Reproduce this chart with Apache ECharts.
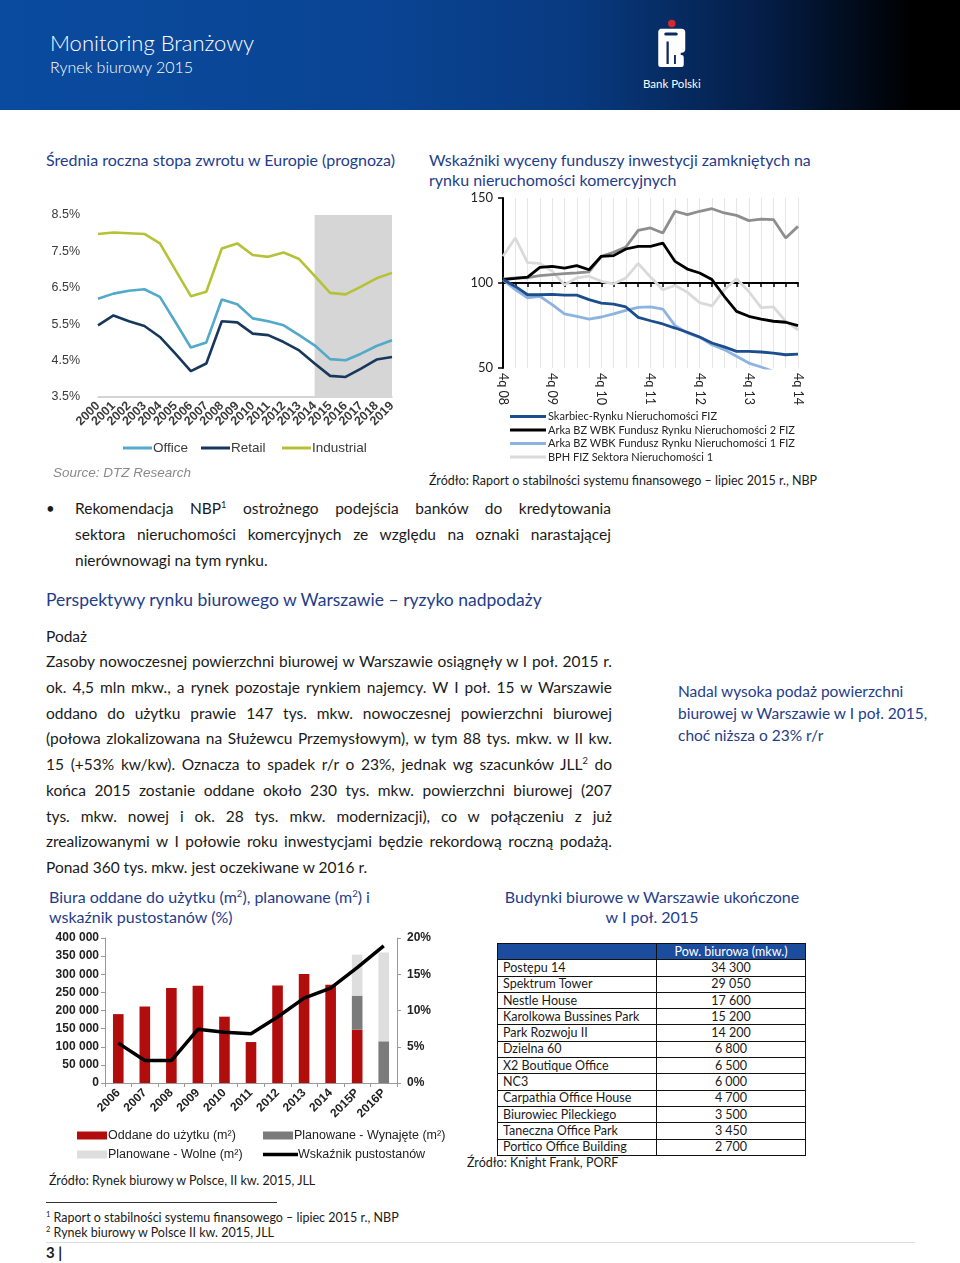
<!DOCTYPE html>
<html><head><meta charset="utf-8">
<script src="https://cdn.jsdelivr.net/npm/echarts@6/dist/echarts.min.js"></script>
<style>
html,body{margin:0;padding:0;background:#fff;}
body{width:960px;height:1263px;position:relative;overflow:hidden;font-family:Lato,"Open Sans",sans-serif;color:#1a1a1a;}
.abs{position:absolute;white-space:nowrap;}
.hdr{position:absolute;left:0;top:0;width:960px;height:110px;background:linear-gradient(90deg,#0a4b9f 0%,#0a4493 40%,#083a80 60%,#041d45 80%,#000 95%);}
.blue{color:#1f3d8a;}
.jl{text-align:justify;text-align-last:justify;}
.par div{height:25.75px;line-height:25.75px;}
#chart{position:absolute;left:0;top:0;width:960px;height:1263px;}
table.tb{position:absolute;left:497px;top:943px;border-collapse:collapse;font-family:Lato,sans-serif;font-size:12.5px;}
table.tb td{border:1px solid #111;height:15.3px;line-height:14px;padding:0 0 0 5px;}
table.tb td.v{text-align:center;padding:0;}
table.tb tr.h td{background:#1c4c9e;color:#fff;}
sup{font-size:60%;line-height:0;}
</style></head>
<body>
<div class="hdr"></div>
<div class="abs" style="left:50px;top:29px;font-size:22px;color:#fff;font-weight:300;">Monitoring Branżowy</div>
<div class="abs" style="left:50px;top:57px;font-size:16px;color:#fff;font-weight:300;">Rynek biurowy 2015</div>
<svg class="abs" style="left:655px;top:16px;" width="35" height="60" viewBox="0 0 46 80">
<circle cx="22" cy="10" r="5" fill="#d8282f"/>
<path d="M7 17 h28 a5 5 0 0 1 5 5 v22 a5 5 0 0 1 -5 5 h-1 v3 h1 a3 3 0 0 1 3 3 v10 a3 3 0 0 1 -3 3 h-28 a3 3 0 0 1 -3 -3 v-42 a6 6 0 0 1 3 -6 z" fill="#fff"/>
<rect x="12" y="22" width="18" height="4" rx="2" fill="#0b2a60"/>
<rect x="15" y="34" width="3" height="30" fill="#0b2a60"/>
<rect x="25" y="52" width="2.5" height="12" fill="#0b2a60"/>
</svg>
<div class="abs" style="left:643px;top:77px;font-size:11.5px;color:#fff;">Bank Polski</div>

<div class="abs blue" style="left:46px;top:150px;font-size:16px;line-height:20px;">Średnia roczna stopa zwrotu w Europie (prognoza)</div>
<div class="abs blue" style="left:429px;top:150px;font-size:16px;line-height:20px;">Wskaźniki wyceny funduszy inwestycji zamkniętych na<br>rynku nieruchomości komercyjnych</div>
<div class="abs" style="left:429px;top:472px;font-size:12.5px;line-height:18px;">Źródło: Raport o stabilności systemu finansowego – lipiec 2015 r., NBP</div>

<div class="abs" style="left:46px;top:495px;font-size:15px;line-height:26px;">•</div>
<div style="position:absolute;left:75px;top:495px;width:536px;font-size:15.5px;line-height:26px;">
<div class="jl">Rekomendacja NBP<sup>1</sup> ostrożnego podejścia banków do kredytowania</div>
<div class="jl">sektora nieruchomości komercyjnych ze względu na oznaki narastającej</div>
<div>nierównowagi na tym rynku.</div>
</div>

<div class="abs blue" style="left:46px;top:589px;font-size:17.5px;line-height:22px;">Perspektywy rynku biurowego w Warszawie – ryzyko nadpodaży</div>
<div class="abs" style="left:46px;top:624px;font-size:15.5px;line-height:24px;">Podaż</div>
<div class="par" style="position:absolute;left:46px;top:649px;width:566px;font-size:15.5px;">
<div class="jl">Zasoby nowoczesnej powierzchni biurowej w Warszawie osiągnęły w I poł. 2015 r.</div>
<div class="jl">ok. 4,5 mln mkw., a rynek pozostaje rynkiem najemcy. W I poł. 15 w Warszawie</div>
<div class="jl">oddano do użytku prawie 147 tys. mkw. nowoczesnej powierzchni biurowej</div>
<div class="jl">(połowa zlokalizowana na Służewcu Przemysłowym), w tym 88 tys. mkw. w II kw.</div>
<div class="jl">15 (+53% kw/kw). Oznacza to spadek r/r o 23%, jednak wg szacunków JLL<sup>2</sup> do</div>
<div class="jl">końca 2015 zostanie oddane około 230 tys. mkw. powierzchni biurowej (207</div>
<div class="jl">tys. mkw. nowej i ok. 28 tys. mkw. modernizacji), co w połączeniu z już</div>
<div class="jl">zrealizowanymi w I połowie roku inwestycjami będzie rekordową roczną podażą.</div>
<div>Ponad 360 tys. mkw. jest oczekiwane w 2016 r.</div>
</div>
<div class="abs blue" style="left:678px;top:680px;font-size:15.5px;line-height:22px;">Nadal wysoka podaż powierzchni<br>biurowej w Warszawie w I poł. 2015,<br>choć niższa o 23% r/r</div>

<div class="abs blue" style="left:49px;top:887px;font-size:16px;line-height:20px;">Biura oddane do użytku (m<sup>2</sup>), planowane (m<sup>2</sup>) i<br>wskaźnik pustostanów (%)</div>
<div class="abs blue" style="left:497px;top:887px;width:310px;text-align:center;font-size:16px;line-height:20px;">Budynki biurowe w Warszawie ukończone<br>w I poł. 2015</div>
<div class="abs" style="left:49px;top:1172px;font-size:12.5px;line-height:18px;">Źródło: Rynek biurowy w Polsce, II kw. 2015, JLL</div>
<div class="abs" style="left:467px;top:1154px;font-size:12.5px;line-height:18px;">Źródło: Knight Frank, PORF</div>

<div class="abs" style="left:46px;top:1202px;width:231px;height:1px;background:#333;"></div>
<div class="abs" style="left:46px;top:1210px;font-size:12.5px;line-height:15px;"><sup>1</sup> Raport o stabilności systemu finansowego – lipiec 2015 r., NBP</div>
<div class="abs" style="left:46px;top:1225px;font-size:12.5px;line-height:15px;"><sup>2</sup> Rynek biurowy w Polsce II kw. 2015, JLL</div>
<div class="abs" style="left:46px;top:1242px;width:869px;height:1px;background:#ddd;"></div>
<div class="abs" style="left:46px;top:1243px;font-size:15px;line-height:18px;font-weight:bold;">3 |</div>

<table class="tb" id="tb"></table>
<div id="chart"></div>
<script>
// ---------- Data: Europe yields ----------
const yearsA = ['2000','2001','2002','2003','2004','2005','2006','2007','2008','2009','2010','2011','2012','2013','2014','2015','2016','2017','2018','2019'];
const office = [6.20,6.34,6.42,6.46,6.25,5.56,4.86,5.00,6.18,6.05,5.66,5.58,5.47,5.20,4.92,4.54,4.51,4.69,4.90,5.06];
const retail = [5.47,5.74,5.58,5.45,5.15,4.69,4.21,4.42,5.58,5.55,5.24,5.20,5.01,4.78,4.42,4.08,4.05,4.28,4.53,4.60];
const industrial = [7.98,8.02,8.00,7.98,7.72,6.99,6.27,6.39,7.58,7.72,7.40,7.35,7.47,7.29,6.83,6.36,6.32,6.53,6.76,6.91];
const forecastFrom = '2014', forecastTo = '2019';

// ---------- Data: fund valuation ----------
const quarters = ['4q 08','1q 09','2q 09','3q 09','4q 09','1q 10','2q 10','3q 10','4q 10','1q 11','2q 11','3q 11','4q 11','1q 12','2q 12','3q 12','4q 12','1q 13','2q 13','3q 13','4q 13','1q 14','2q 14','3q 14','4q 14'];
const skarbiec = [102,98,93.1,93.1,93.3,92.9,92.9,90.2,88.2,87.6,85.9,79.8,77.8,75.9,73.5,71,68.2,64.7,62.4,59.8,59.8,59.4,58.8,57.8,58.2];
const arka2 = [102,102.7,103.5,109.2,109.8,108.8,110.2,107.8,115.7,116.1,120,121.6,121.6,123.5,112.7,108.2,105.9,102,92.2,83.3,80.4,78.8,77.5,76.9,74.9];
const arka1 = [102,96.1,91.2,92.2,87.3,81.8,80.4,78.8,80,81.8,83.9,85.7,85.9,84.7,74.9,70.6,68,63.7,60.8,56.9,52.9,50.6,48,46,45];
const bph = [115.7,126.5,112,111.5,107,99,103,104,101,99.5,103,111.5,103.5,96,98.5,94.5,88.5,86.5,96,102.5,95,85.5,86,77.5,72.5];
const otherFund = [102.4,103,103.1,104.3,104.9,105.5,105.9,106.5,115.7,118,121.2,131,132.4,129.4,142.2,140.2,142.2,143.7,141.2,139.8,136.7,137.6,137.3,126.5,133.3];
const fundNames = ['Skarbiec-Rynku Nieruchomości FIZ','Arka BZ WBK Fundusz Rynku Nieruchomości 2 FIZ','Arka BZ WBK Fundusz Rynku Nieruchomości 1 FIZ','BPH FIZ Sektora Nieruchomości 1'];

// ---------- Data: Warsaw supply ----------
const yearsC = ['2006','2007','2008','2009','2010','2011','2012','2013','2014','2015P','2016P'];
const oddane = [190000,211000,262000,268000,183000,113000,269000,301000,271000,147000,null];
const wynajete = [null,null,null,null,null,null,null,null,null,94000,115000];
const wolne = [null,null,null,null,null,null,null,null,null,113000,245000];
const pustostany = [5.5,3.1,3.1,7.4,7.0,6.8,9.1,11.7,13.1,15.9,18.9];

// ---------- Data: table ----------
const tableHeader = 'Pow. biurowa (mkw.)';
const buildings = ['Postępu 14','Spektrum Tower','Nestle House','Karolkowa Bussines Park','Park Rozwoju II','Dzielna 60','X2 Boutique Office','NC3','Carpathia Office House','Biurowiec Pileckiego','Taneczna Office Park','Portico Office Building'];
const areas = [34300,29050,17600,15200,14200,6800,6500,6000,4700,3500,3450,2700];

function sp(n){return String(n).replace(/\B(?=(\d{3})+(?!\d))/g,' ');}

(function(){
  const tb=document.getElementById('tb');
  let h='<tr class="h"><td style="width:153px"></td><td class="v" style="width:148px">'+tableHeader+'</td></tr>';
  buildings.forEach((b,i)=>{h+='<tr><td>'+b+'</td><td class="v">'+sp(areas[i])+'</td></tr>';});
  tb.innerHTML=h;
})();

const chart = echarts.init(document.getElementById('chart'), null, {renderer:'canvas'});
const arial = 'Liberation Sans, Arial, sans-serif';
const pko = 'Lato, sans-serif';
const gB = {left:503, top:198, width:295, height:170};

const option = {
  animation:false,
  backgroundColor:'transparent',
  grid:[
    {left:98, top:215, width:294, height:182},
    {left:gB.left, top:gB.top, width:gB.width, height:gB.height},
    {left:105, top:938, width:292, height:145}
  ],
  xAxis:[
    {gridIndex:0, type:'category', data:yearsA, boundaryGap:false,
     axisLine:{lineStyle:{color:'#c8c8c8', width:1.5}}, axisTick:{show:false},
     axisLabel:{rotate:45, interval:0, margin:7, fontFamily:arial, fontSize:12.5, fontWeight:'bold', color:'#3a3a3a'}},
    {gridIndex:1, type:'category', data:quarters, boundaryGap:false,
     axisLine:{show:false}, axisTick:{show:false},
     splitLine:{show:true, interval:0, lineStyle:{color:'#e6e6e6', width:1}},
     axisLabel:{rotate:-90, interval:3, margin:5, fontFamily:pko, fontSize:12.5, color:'#222'}},
    {gridIndex:1, type:'category', data:quarters, boundaryGap:false, position:'bottom', offset:-gB.height/2,
     axisLine:{onZero:false, lineStyle:{color:'#000', width:2}}, axisTick:{show:true, interval:0, length:4, lineStyle:{color:'#000', width:1.5}},
     axisLabel:{show:false}, splitLine:{show:false}},
    {gridIndex:2, type:'category', data:yearsC,
     axisLine:{lineStyle:{color:'#9a9a9a'}}, axisTick:{show:true, length:4, lineStyle:{color:'#9a9a9a'}},
     axisLabel:{rotate:45, interval:0, margin:8, fontFamily:arial, fontSize:12, fontWeight:'bold', color:'#222'}}
  ],
  yAxis:[
    {gridIndex:0, type:'value', min:3.5, max:8.5, interval:0.5,
     axisLine:{show:false}, axisTick:{show:false}, splitLine:{show:false},
     axisLabel:{margin:18, fontFamily:arial, fontSize:12.5, color:'#3a3a3a',
       formatter:v=>{const k=Math.round(v*2); return (k%2===1)? v.toFixed(1)+'%':'';}}},
    {gridIndex:1, type:'value', min:50, max:150, interval:50,
     axisLine:{show:true, lineStyle:{color:'#000', width:2}}, axisTick:{show:true, length:5, lineStyle:{color:'#000', width:1.5}},
     splitLine:{show:false}, axisLabel:{margin:10, fontFamily:pko, fontSize:13, color:'#222'}},
    {gridIndex:2, type:'value', min:0, max:400000, interval:50000,
     axisLine:{show:true, lineStyle:{color:'#9a9a9a'}}, axisTick:{show:true, length:4, lineStyle:{color:'#9a9a9a'}},
     splitLine:{show:false}, axisLabel:{margin:6, fontFamily:arial, fontSize:12, fontWeight:'bold', color:'#222', formatter:v=>sp(v)}},
    {gridIndex:2, type:'value', min:0, max:20, interval:5, position:'right',
     axisLine:{show:true, lineStyle:{color:'#9a9a9a'}}, axisTick:{show:true, length:4, lineStyle:{color:'#9a9a9a'}},
     splitLine:{show:false}, axisLabel:{margin:10, fontFamily:arial, fontSize:12, fontWeight:'bold', color:'#222', formatter:v=>v+'%'}}
  ],
  legend:[
    {data:['Office'], left:118, top:436, icon:'rect', itemWidth:29, itemHeight:3, textStyle:{fontFamily:arial, fontSize:13.5, color:'#3a3a3a', padding:[0,0,0,-4]}},
    {data:['Retail'], left:196, top:436, icon:'rect', itemWidth:29, itemHeight:3, textStyle:{fontFamily:arial, fontSize:13.5, color:'#3a3a3a', padding:[0,0,0,-4]}},
    {data:['Industrial'], left:277, top:436, icon:'rect', itemWidth:29, itemHeight:3, textStyle:{fontFamily:arial, fontSize:13.5, color:'#3a3a3a', padding:[0,0,0,-4]}},
    {data:fundNames, left:505, top:406, orient:'vertical', icon:'rect', itemWidth:36, itemHeight:3, itemGap:2.5, textStyle:{fontFamily:pko, fontSize:11, color:'#222', padding:[0,0,0,-3]}},
    {data:['Oddane do użytku (m²)'], left:72, top:1124, icon:'rect', itemWidth:30, itemHeight:8, textStyle:{fontFamily:arial, fontSize:12.5, color:'#222', padding:[0,0,0,-4]}},
    {data:['Planowane - Wynajęte (m²)'], left:258, top:1124, icon:'rect', itemWidth:30, itemHeight:8, textStyle:{fontFamily:arial, fontSize:12.5, color:'#222', padding:[0,0,0,-4]}},
    {data:['Planowane - Wolne (m²)'], left:72, top:1143, icon:'rect', itemWidth:30, itemHeight:8, textStyle:{fontFamily:arial, fontSize:12.5, color:'#222', padding:[0,0,0,-4]}},
    {data:['Wskaźnik pustostanów'], left:258, top:1143, icon:'rect', itemWidth:35, itemHeight:3.5, textStyle:{fontFamily:arial, fontSize:12.5, color:'#222', padding:[0,0,0,-5]}}
  ],
  graphic:[
    {type:'text', left:53, top:466, style:{text:'Source: DTZ Research', fontFamily:arial, fontStyle:'italic', fontSize:13.5, fill:'#8a8a8a'}}
  ],
  series:[
    {name:'Office', type:'line', xAxisIndex:0, yAxisIndex:0, data:office, showSymbol:false, lineStyle:{width:2.6, color:'#52a9ca'}, itemStyle:{color:'#52a9ca'},
     markArea:{silent:true, itemStyle:{color:'#d6d6d6'}, data:[[{xAxis:forecastFrom},{xAxis:forecastTo}]]}, z:3},
    {name:'Retail', type:'line', xAxisIndex:0, yAxisIndex:0, data:retail, showSymbol:false, lineStyle:{width:2.6, color:'#17385c'}, itemStyle:{color:'#17385c'}, z:3},
    {name:'Industrial', type:'line', xAxisIndex:0, yAxisIndex:0, data:industrial, showSymbol:false, lineStyle:{width:2.6, color:'#b6c236'}, itemStyle:{color:'#b6c236'}, z:3},

    {name:'BPH FIZ Sektora Nieruchomości 1', type:'line', xAxisIndex:1, yAxisIndex:1, data:bph, showSymbol:false, lineStyle:{width:2.8, color:'#dadada'}, itemStyle:{color:'#dadada'}},
    {name:'Inny fundusz', type:'line', xAxisIndex:1, yAxisIndex:1, data:otherFund, showSymbol:false, lineStyle:{width:2.8, color:'#8e8e8e'}, itemStyle:{color:'#8e8e8e'}},
    {name:fundNames[2], type:'line', xAxisIndex:1, yAxisIndex:1, data:arka1, showSymbol:false, clip:true, lineStyle:{width:2.8, color:'#8db3e2'}, itemStyle:{color:'#8db3e2'}},
    {name:fundNames[1], type:'line', xAxisIndex:1, yAxisIndex:1, data:arka2, showSymbol:false, lineStyle:{width:2.8, color:'#000'}, itemStyle:{color:'#000'}},
    {name:fundNames[0], type:'line', xAxisIndex:1, yAxisIndex:1, data:skarbiec, showSymbol:false, lineStyle:{width:2.8, color:'#1d4d8c'}, itemStyle:{color:'#1d4d8c'}},

    {name:'Oddane do użytku (m²)', type:'bar', xAxisIndex:3, yAxisIndex:2, stack:'s', data:oddane, barWidth:'40%', itemStyle:{color:'#b10d0d'}},
    {name:'Planowane - Wynajęte (m²)', type:'bar', xAxisIndex:3, yAxisIndex:2, stack:'s', data:wynajete, barWidth:'40%', itemStyle:{color:'#7b7b7b'}},
    {name:'Planowane - Wolne (m²)', type:'bar', xAxisIndex:3, yAxisIndex:2, stack:'s', data:wolne, barWidth:'40%', itemStyle:{color:'#dedede'}},
    {name:'Wskaźnik pustostanów', type:'line', xAxisIndex:3, yAxisIndex:3, data:pustostany, showSymbol:false, lineStyle:{width:3.5, color:'#000'}, itemStyle:{color:'#000'}, z:5}
  ]
};
chart.setOption(option);
</script>
</body></html>
